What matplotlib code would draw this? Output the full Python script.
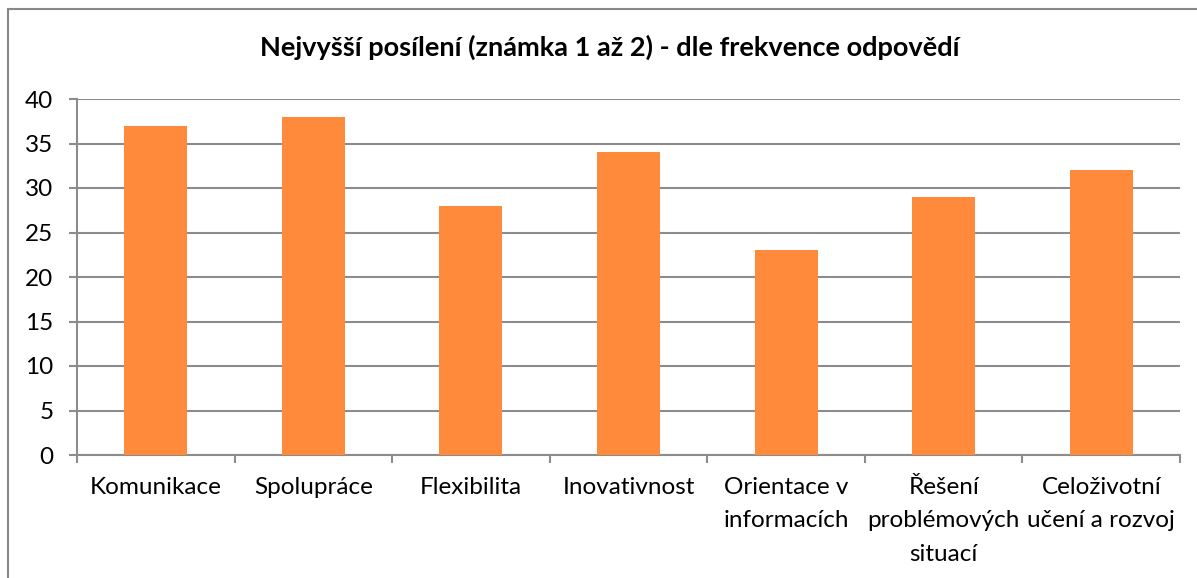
import matplotlib.pyplot as plt
import matplotlib.patches as patches
import numpy as np

plt.rcParams['font.family'] = ['Lato', 'DejaVu Sans']

categories = ['Komunikace', 'Spolupráce', 'Flexibilita', 'Inovativnost',
              'Orientace v\ninformacích', 'Řešení\nproblémových\nsituací',
              'Celoživotní\nučení a rozvoj']
values = [37, 38, 28, 34, 23, 29, 32]
yticks = [0, 5, 10, 15, 20, 25, 30, 35, 40]
title = 'Nejvyšší posílení (známka 1 až 2) - dle frekvence odpovědí'

W, H = 1197, 578
fig = plt.figure(figsize=(W / 100, H / 100), dpi=100)
ax = fig.add_axes([77 / W, 1 - 455 / H, (1180 - 77) / W, (455 - 99) / H])

grid_c = '#8c8c8c'
x = np.arange(len(categories))
ax.bar(x, values, width=0.4, color='#ff8a3b', zorder=3)

ax.set_xlim(-0.5, len(categories) - 0.5)
ax.set_ylim(0, 40)
ax.set_yticks(yticks)
ax.yaxis.grid(True, color=grid_c, linewidth=1.5, zorder=0)
ax.set_xticks(x)
ax.set_xticklabels(categories, fontsize=17.5, linespacing=1.72)
ax.set_xticks(np.arange(-0.5, len(categories)), minor=True)
ax.tick_params(axis='x', which='major', length=0, pad=16)
ax.tick_params(axis='x', which='minor', length=6, width=1.5, color=grid_c)
ax.tick_params(axis='y', length=6, width=1.5, color=grid_c, labelsize=17.5, pad=11)

for s in ['top', 'right']:
    ax.spines[s].set_visible(False)
for s in ['left', 'bottom']:
    ax.spines[s].set_color(grid_c)
    ax.spines[s].set_linewidth(1.5)

fig.text(610 / W, 1 - 47 / H, title, ha='center', va='center',
         fontsize=19.5, fontweight='bold')

border = patches.Rectangle((8 / W, -0.1), 1.1, 1.1 - 9 / H, transform=fig.transFigure,
                           fill=False, edgecolor='#888888', linewidth=1.5)
fig.patches.append(border)

fig.savefig('out.png', dpi=100)
